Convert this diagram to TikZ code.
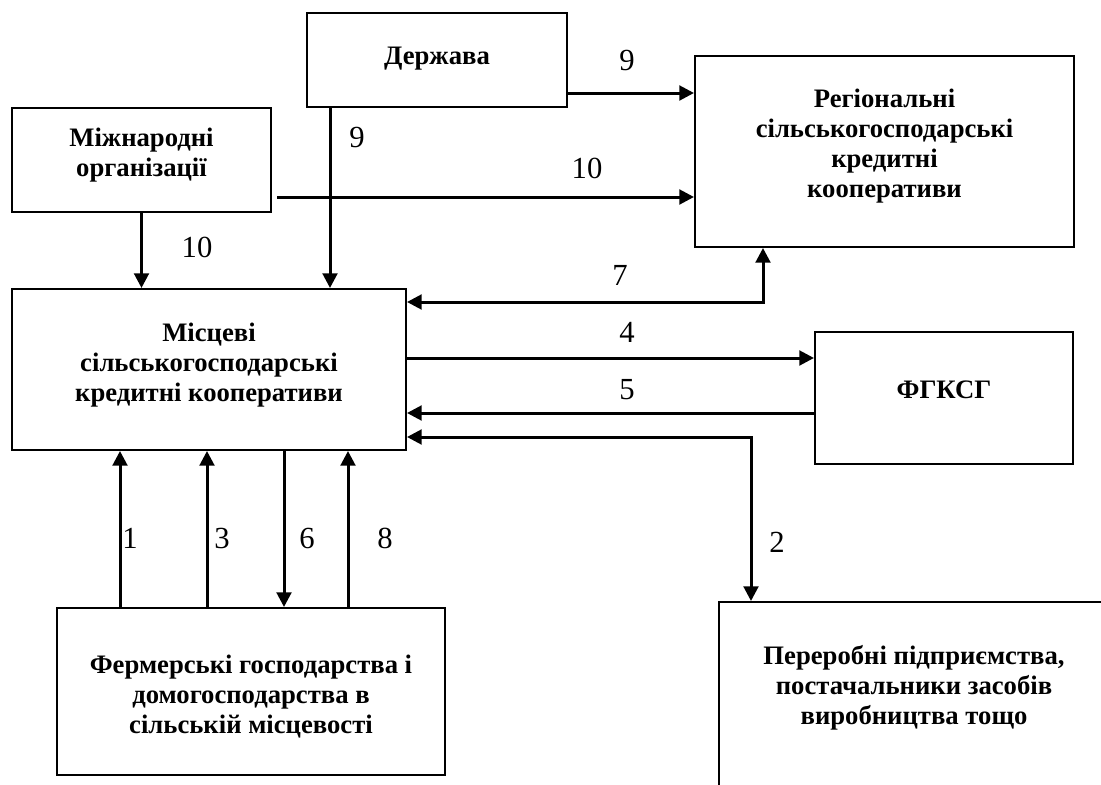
\documentclass[tikz,border=0pt]{standalone}
\usepackage{fontspec}
\setmainfont{Liberation Serif}
\usetikzlibrary{arrows.meta,calc}
\begin{document}
\begin{tikzpicture}[x=0.75pt,y=-0.75pt,
  boxnode/.style={draw,line width=1.5pt,inner sep=0pt},
  boxtext/.style={align=center,inner sep=0pt,font=\fontsize{20}{22.5}\selectfont\bfseries},
  arr/.style={line width=2.25pt,-{Triangle[length=11pt,width=11pt]}},
  arrb/.style={line width=2.25pt,{Triangle[length=11pt,width=11pt]}-{Triangle[length=11pt,width=11pt]}},
  lbl/.style={inner sep=0pt,font=\fontsize{23}{26}\selectfont}]
\useasboundingbox (0,0) rectangle (1101,785);
\clip (0,0) rectangle (1101,785);
% boxes
\node[boxnode,minimum width=195pt,minimum height=70.5pt] (derzh) at (437,60) {};
\node[boxtext] (derzht) at (437,59) {Держава};
\node[boxnode,minimum width=284.25pt,minimum height=143.25pt] (reg) at (884.5,151.5) {};
\node[boxtext] (regt) at (884.5,146)
  {Регіональні\\сільськогосподарські\\кредитні\\кооперативи};
\node[boxnode,minimum width=194.25pt,minimum height=78pt] (mizh) at (141.5,160) {};
\node[boxtext] (mizht) at (141.5,155) {Міжнародні\\організації};
\node[boxnode,minimum width=295.5pt,minimum height=120.75pt] (misc) at (209,369.5) {};
\node[boxtext] (misct) at (209,365) {Місцеві\\сільськогосподарські\\кредитні кооперативи};
\node[boxnode,minimum width=193.5pt,minimum height=99pt] (fg) at (944,398) {};
\node[boxtext] (fgt) at (944,390) {ФГКСГ};
\node[boxnode,minimum width=291pt,minimum height=125.25pt] (ferm) at (251,691.5) {};
\node[boxtext] (fermt) at (251,697)
  {Фермерські господарства і\\домогосподарства в\\сільській місцевості};
\node[boxnode,minimum width=330pt,minimum height=200pt,anchor=north west] (per) at (718,601) {};
\node[boxtext] (pert) at (914,688)
  {Переробні підприємства,\\постачальники засобів\\виробництва тощо};
% connectors
\coordinate (s10) at (277,197);
\coordinate (c7) at (763,302);
\coordinate (c2) at (751,437);
\draw[arr] (derzh.east |- 0,93) -- (reg.west |- 0,93);
\draw[arr] (derzh.south -| 330,0) -- (misc.north -| 330,0);
\draw[arr] (s10) -- (reg.west |- s10);
\draw[arr] (mizh.south) -- (misc.north -| mizh.south);
\draw[arrb,line join=miter] (misc.east |- c7) -- (c7) -- (reg.south -| c7);
\draw[arr] (misc.east |- 0,358) -- (fg.west |- 0,358);
\draw[arr] (fg.west |- 0,413) -- (misc.east |- 0,413);
\draw[arrb,line join=miter] (misc.east |- c2) -- (c2) -- (per.north -| c2);
\draw[arr] (ferm.north -| 120,0) -- (misc.south -| 120,0);
\draw[arr] (ferm.north -| 207,0) -- (misc.south -| 207,0);
\draw[arr] (misc.south -| 284,0) -- (ferm.north -| 284,0);
\draw[arr] (ferm.north -| 348,0) -- (misc.south -| 348,0);
% labels
\node[lbl] (l9a) at (627,60) {9};
\node[lbl] (l9b) at (357,137) {9};
\node[lbl] (l10a) at (587,168) {10};
\node[lbl] (l10b) at (197,247) {10};
\node[lbl] (l7) at (620,275) {7};
\node[lbl] (l4) at (627,332) {4};
\node[lbl] (l5) at (627,390) {5};
\node[lbl] (l2) at (777,542) {2};
\node[lbl] (l1) at (130,538) {1};
\node[lbl] (l3) at (222,538) {3};
\node[lbl] (l6) at (307,538) {6};
\node[lbl] (l8) at (385,538) {8};
\end{tikzpicture}
\end{document}
